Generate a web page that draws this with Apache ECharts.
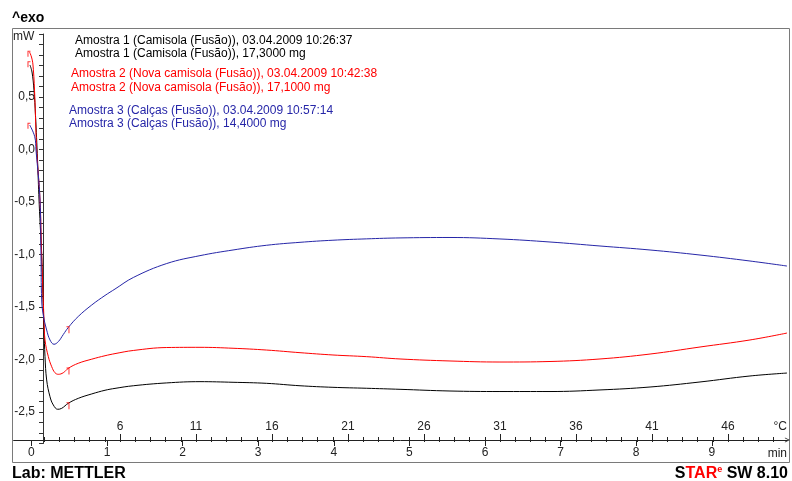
<!DOCTYPE html>
<html>
<head>
<meta charset="utf-8">
<script src="https://cdn.jsdelivr.net/npm/echarts@6/dist/echarts.min.js"></script>
<style>
html,body{margin:0;padding:0;background:#fff;}
#chart{width:792px;height:481px;}
</style>
</head>
<body>
<div id="chart"></div>
<script>
// ---- data (time in min, heat flow in mW) ----
const amostra1 = [
  [-0.019, 0.805], [0.008, 0.738], [0.034, 0.567], [0.054, 0.329], [0.081, -0.100],
  [0.101, -0.481], [0.120, -0.767], [0.136, -1.005], [0.157, -1.500], [0.167, -1.719],
  [0.180, -1.973], [0.202, -2.195], [0.246, -2.354], [0.290, -2.433], [0.348, -2.474],
  [0.401, -2.465], [0.488, -2.417], [0.620, -2.370], [0.798, -2.328], [0.974, -2.293],
  [1.106, -2.275], [1.348, -2.250], [1.790, -2.223], [2.230, -2.211], [2.667, -2.217],
  [3.112, -2.227], [3.553, -2.250], [3.989, -2.265], [4.435, -2.274], [4.876, -2.284],
  [5.537, -2.300], [6.198, -2.305], [6.860, -2.305], [7.521, -2.290], [8.183, -2.262],
  [8.844, -2.214], [9.505, -2.157], [9.995, -2.129]
];
const amostra2 = [
  [-0.025, 0.929], [0.001, 0.881], [0.021, 0.805], [0.044, 0.519], [0.070, -0.005],
  [0.114, -0.481], [0.136, -1.005], [0.147, -1.243], [0.167, -1.624], [0.180, -1.814],
  [0.224, -1.973], [0.269, -2.069], [0.312, -2.126], [0.356, -2.141], [0.422, -2.126],
  [0.488, -2.084], [0.620, -2.036], [0.798, -1.997], [0.974, -1.964], [1.106, -1.944],
  [1.348, -1.914], [1.790, -1.886], [2.230, -1.884], [2.667, -1.893], [3.112, -1.910],
  [3.553, -1.935], [3.989, -1.957], [4.435, -1.973], [4.876, -1.995], [5.537, -2.014],
  [6.198, -2.024], [6.860, -2.019], [7.521, -1.995], [8.183, -1.948], [8.844, -1.881],
  [9.505, -1.814], [9.995, -1.748]
];
const amostra3 = [
  [-0.022, 0.233], [0.044, 0.122], [0.061, -0.005], [0.114, -0.481], [0.127, -1.005],
  [0.136, -1.433], [0.157, -1.576], [0.202, -1.719], [0.246, -1.814], [0.299, -1.855],
  [0.356, -1.830], [0.422, -1.762], [0.488, -1.695], [0.620, -1.590], [0.798, -1.481],
  [0.974, -1.390], [1.106, -1.329], [1.348, -1.219], [1.790, -1.086], [2.230, -1.011],
  [2.667, -0.957], [3.112, -0.912], [3.553, -0.884], [3.989, -0.864], [4.435, -0.851],
  [4.876, -0.842], [5.537, -0.838], [6.198, -0.852], [6.860, -0.881], [7.521, -0.919],
  [8.183, -0.957], [8.844, -1.005], [9.505, -1.062], [9.995, -1.110]
];
// red limit markers
const startMarks = [[-0.032, 0.93], [-0.032, 0.83], [-0.032, 0.245]];
const limitMarks = [[0.497, -2.412], [0.497, -2.080], [0.497, -1.688]];

// axis ticks / labels
const timeLabels = [0, 1, 2, 3, 4, 5, 6, 7, 8, 9];
const tempLabels = [6, 11, 16, 21, 26, 31, 36, 41, 46];
const tempTicks = [1,2,3,4,5,6,7,8,9,10,11,12,13,14,15,16,17,18,19,20,21,22,23,24,25,26,27,28,29,30,31,32,33,34,35,36,37,38,39,40,41,42,43,44,45,46,47,48,49];
const yLabelValues = [0.5, 0.0, -0.5, -1.0, -1.5, -2.0, -2.5];

const legendLines = [
  ['Amostra 1 (Camisola (Fusão)), 03.04.2009 10:26:37', 'Amostra 1 (Camisola (Fusão)), 17,3000 mg'],
  ['Amostra 2 (Nova camisola (Fusão)), 03.04.2009 10:42:38', 'Amostra 2 (Nova camisola (Fusão)), 17,1000 mg'],
  ['Amostra 3 (Calças (Fusão)), 03.04.2009 10:57:14', 'Amostra 3 (Calças (Fusão)), 14,4000 mg']
];

const FONT = '"Liberation Sans", Arial, sans-serif';
const cBlack = '#000000', cRed = '#ff0000', cBlue = '#2626a8';

const chart = echarts.init(document.getElementById('chart'), null, {renderer: 'canvas'});

const fmtY = v => {
  for (const l of yLabelValues) {
    if (Math.abs(v - l) < 1e-6) {
      return (l < 0 ? '-' : '') + Math.abs(l).toFixed(1).replace('.', ',');
    }
  }
  return '';
};

const axisCommon = {
  type: 'value', position: 'bottom', offset: -3.5,
  splitLine: {show: false}
};
const TEMP_MIN = -1, TEMP_MAX = 49.91;
const TIME_MIN = -0.2354, TIME_MAX = 10;

const legendGraphics = [];
const legCfg = [[75, 40.7, 53.3, cBlack], [71, 73.3, 87.7, cRed], [69, 110.7, 123.3, cBlue]];
legendLines.forEach((pair, i) => {
  const c = legCfg[i];
  legendGraphics.push({type: 'text', style: {text: pair[0], x: c[0], y: c[1], fill: c[3], font: '12px ' + FONT, verticalAlign: 'middle'}});
  legendGraphics.push({type: 'text', style: {text: pair[1], x: c[0], y: c[2], fill: c[3], font: '12px ' + FONT, verticalAlign: 'middle'}});
});

const option = {
  animation: false,
  backgroundColor: '#ffffff',
  grid: {left: 13.6, right: 4.6, top: 34, bottom: 37.5, containLabel: false},
  xAxis: [
    Object.assign({}, axisCommon, {
      min: TIME_MIN, max: TIME_MAX,
      axisLine: {show: true, onZero: false, lineStyle: {color: '#222', width: 1},
        symbol: ['none', 'path://M0,6 L3,0 L6,6 L5,6 L3,2 L1,6 Z'], symbolSize: [7, 5]},
      axisTick: {show: true, customValues: timeLabels, length: 6, inside: false, lineStyle: {color: '#222'}},
      axisLabel: {show: true, customValues: timeLabels, margin: 7, fontSize: 12, fontFamily: FONT, color: '#222'}
    }),
    Object.assign({}, axisCommon, {
      min: TEMP_MIN, max: TEMP_MAX,
      axisLine: {show: false, onZero: false},
      axisTick: {show: true, customValues: tempTicks, length: 3, inside: true, lineStyle: {color: '#222'}},
      axisLabel: {show: true, customValues: tempLabels, inside: true, margin: 7, fontSize: 12, fontFamily: FONT, color: '#222'}
    }),
    Object.assign({}, axisCommon, {
      min: TEMP_MIN, max: TEMP_MAX,
      axisLine: {show: false, onZero: false},
      axisTick: {show: true, customValues: tempTicks, length: 2, inside: false, lineStyle: {color: '#222'}},
      axisLabel: {show: false}
    }),
    Object.assign({}, axisCommon, {
      min: TEMP_MIN, max: TEMP_MAX,
      axisLine: {show: false, onZero: false},
      axisTick: {show: true, customValues: tempLabels, length: 6, inside: true, lineStyle: {color: '#222'}},
      axisLabel: {show: false}
    })
  ],
  yAxis: {
    type: 'value', min: -2.8, max: 1.1, interval: 0.1, offset: -29.4,
    splitLine: {show: false},
    axisLine: {show: true, onZero: false, lineStyle: {color: '#333', width: 1}},
    axisTick: {show: true, length: 4, inside: false, lineStyle: {color: '#333'}},
    axisLabel: {show: true, formatter: fmtY, margin: 8, fontSize: 12, fontFamily: FONT, color: '#222'}
  },
  series: [
    {type: 'line', name: 'Amostra 1', data: amostra1, xAxisIndex: 0, showSymbol: false, smooth: 0.4,
      lineStyle: {color: cBlack, width: 1}, itemStyle: {color: cBlack}, z: 3},
    {type: 'line', name: 'Amostra 2', data: amostra2, xAxisIndex: 0, showSymbol: false, smooth: 0.4,
      lineStyle: {color: cRed, width: 1}, itemStyle: {color: cRed}, z: 3},
    {type: 'line', name: 'Amostra 3', data: amostra3, xAxisIndex: 0, showSymbol: false, smooth: 0.4,
      lineStyle: {color: cBlue, width: 1}, itemStyle: {color: cBlue}, z: 3},
    {type: 'scatter', data: startMarks, xAxisIndex: 0, silent: true,
      symbol: 'path://M0,0 L3,0 L3,1 L1,1 L1,6 L0,6 Z', symbolSize: [3, 6], symbolOffset: [0, 2],
      itemStyle: {color: cRed}, z: 4},
    {type: 'scatter', data: limitMarks, xAxisIndex: 0, silent: true,
      symbol: 'path://M0,0 L3,0 L3,7 L2,7 L2,1 L0,1 Z', symbolSize: [3, 7], symbolOffset: [-1, 3],
      itemStyle: {color: cRed}, z: 4}
  ],
  graphic: [
    {type: 'rect', shape: {x: 12.5, y: 28.5, width: 777, height: 434}, style: {fill: 'none', stroke: '#7a7a7a', lineWidth: 1}, z: 0},
    {type: 'text', style: {text: '^exo', x: 12, y: 18, font: 'bold 14px ' + FONT, fill: '#000', verticalAlign: 'middle'}},
    {type: 'text', style: {text: 'mW', x: 13, y: 37, font: '12px ' + FONT, fill: '#222', verticalAlign: 'middle'}},
    {type: 'text', style: {text: '°C', x: 787, y: 427, font: '12px ' + FONT, fill: '#222', align: 'right', verticalAlign: 'middle'}},
    {type: 'text', style: {text: 'min', x: 787, y: 454, font: '12px ' + FONT, fill: '#222', align: 'right', verticalAlign: 'middle'}},
    {type: 'text', style: {text: 'Lab: METTLER', x: 12, y: 473.5, font: 'bold 16px ' + FONT, fill: '#000', verticalAlign: 'middle'}},
    {type: 'text', style: {
      text: '{k|S}{r|TAR}{s|e}{k| SW 8.10}', x: 788, y: 473.5, align: 'right', verticalAlign: 'middle',
      rich: {
        k: {font: 'bold 16px ' + FONT, fill: '#000'},
        r: {font: 'bold 16px ' + FONT, fill: cRed},
        s: {font: 'bold 9px ' + FONT, fill: cRed, verticalAlign: 'top'}
      }
    }}
  ].concat(legendGraphics)
};
chart.setOption(option);
</script>
</body>
</html>
